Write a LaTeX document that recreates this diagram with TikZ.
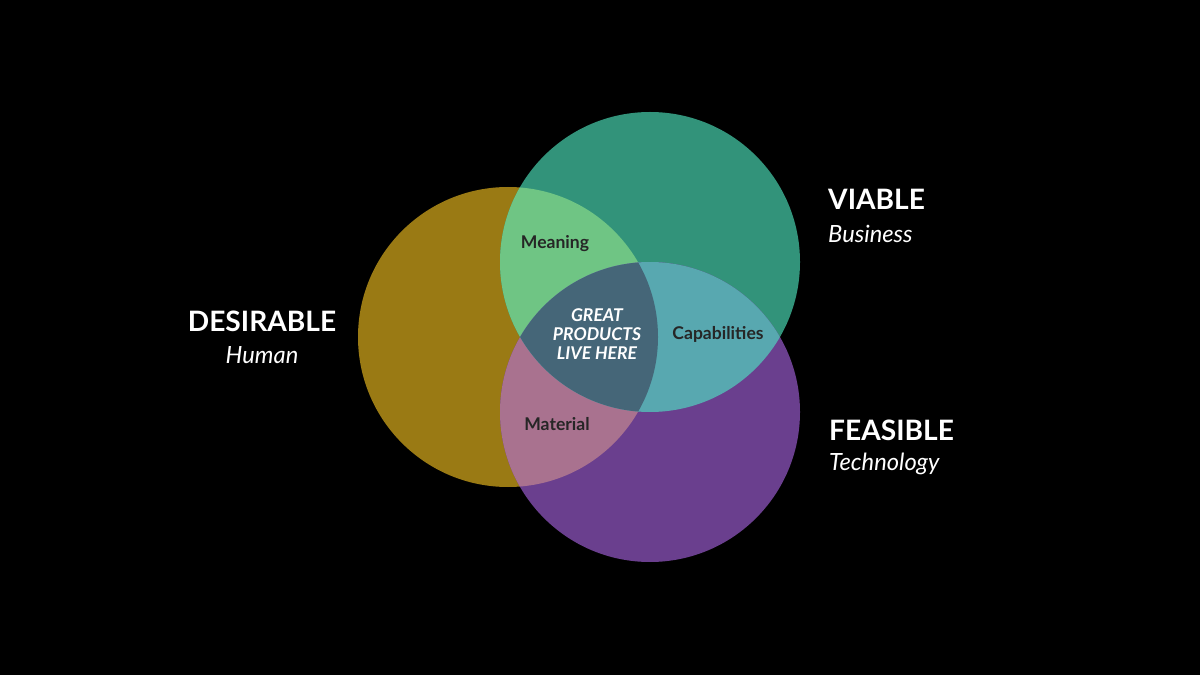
\documentclass[tikz,border=0pt]{standalone}
\usepackage{fontspec}
\setmainfont{Lato}
\begin{document}
\begin{tikzpicture}[x=0.02cm,y=-0.02cm,
  big/.style={text=white,font=\fontsize{16}{18}\selectfont\bfseries},
  sub/.style={text=white,font=\fontsize{13.5}{15}\selectfont\itshape},
  lab/.style={text=black!85,font=\fontsize{10}{11}\selectfont\bfseries}]
\fill[black] (0,0) rectangle (1200,675);
\useasboundingbox (0,0) rectangle (1200,675);
\def\cy{(508,337) circle[radius=150]}
\def\cg{(650,262) circle[radius=150]}
\def\cp{(650,412) circle[radius=150]}
\fill[color={rgb,255:red,154;green,122;blue,20}] \cy;
\fill[color={rgb,255:red,50;green,147;blue,122}] \cg;
\fill[color={rgb,255:red,106;green,63;blue,142}] \cp;
\begin{scope}\clip \cy; \fill[color={rgb,255:red,111;green,197;blue,132}] \cg; \end{scope}
\begin{scope}\clip \cy; \fill[color={rgb,255:red,169;green,114;blue,143}] \cp; \end{scope}
\begin{scope}\clip \cg; \fill[color={rgb,255:red,88;green,168;blue,176}] \cp; \end{scope}
\begin{scope}\clip \cy; \clip \cg; \fill[color={rgb,255:red,69;green,102;blue,120}] \cp; \end{scope}
\node[big] (d) at (262,321) {DESIRABLE};
\node[sub] (dh) at (262,355) {Human};
\node[big,anchor=west] (v) at (822,199) {VIABLE};
\node[sub,anchor=west] (vb) at (822,234) {Business};
\node[big,anchor=west] (f) at (823,430) {FEASIBLE};
\node[sub,anchor=west] (ft) at (823,464) {Technology};
\node[lab] (m) at (555,244) {Meaning};
\node[lab] (c) at (718,334) {Capabilities};
\node[lab] (ma) at (557,424) {Material};
\node[text=white,align=center,font=\fontsize{10}{11}\selectfont\bfseries\itshape] (g) at (597,334) {GREAT\\PRODUCTS\\LIVE HERE};
\end{tikzpicture}
\end{document}
